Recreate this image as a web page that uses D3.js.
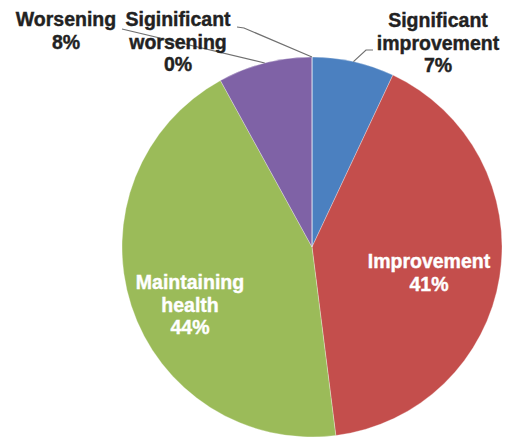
<!DOCTYPE html>
<html>
<head>
<meta charset="utf-8">
<script src="https://cdn.jsdelivr.net/npm/d3@7"></script>
<style>
  html, body { margin: 0; padding: 0; background: #ffffff; }
  svg { display: block; }
  text { font-family: "Liberation Sans", Arial, sans-serif; font-weight: bold; }
</style>
</head>
<body>
<script>
// ---- data ----
const categories = ["Significant improvement", "Improvement", "Maintaining health", "Worsening", "Siginificant worsening"];
const values = [7, 41, 44, 8, 0];
const labelLines = [["Significant", "improvement"], ["Improvement"], ["Maintaining", "health"], ["Worsening"], ["Siginificant", "worsening"]];

// ---- style / layout ----
const colors = ["#4b80c0", "#c44e4c", "#9bbb59", "#7f62a6", "#4bacc6"];
const textColors = ["#222222", "#ffffff", "#ffffff", "#222222", "#222222"];
const labelPos = [[438, 27], [429, 268], [190, 289], [66, 26], [178, 26]];
const W = 512, H = 439, cx = 312, cy = 247, R = 190;
const lineH = 22.5;

const svg = d3.select("body").append("svg").attr("width", W).attr("height", H);

const pie = d3.pie().sort(null).value(d => d)(values);
const arc = d3.arc().innerRadius(0).outerRadius(R);

const g = svg.append("g").attr("transform", `translate(${cx},${cy})`);
g.selectAll("path").data(pie).join("path")
  .attr("d", arc)
  .attr("fill", (d, i) => colors[i])
  .attr("stroke", "#ffffff")
  .attr("stroke-width", 0.5)
  .attr("stroke-opacity", 0.6);

// point on the pie rim at a slice's middle angle
function rim(d) {
  const a = (d.startAngle + d.endAngle) / 2;
  return [cx + R * Math.sin(a), cy - R * Math.cos(a)];
}

// leader lines for outside labels
const leaders = [
  { i: 0, pts: p => [p, [366, 50], [373, 50]] },
  { i: 3, pts: p => [[122, 29], p] },
  { i: 4, pts: p => [[237, 27], [244, 28], p] }
];
const line = d3.line();
svg.selectAll("path.leader").data(leaders).join("path")
  .attr("class", "leader")
  .attr("d", l => line(l.pts(rim(pie[l.i]))))
  .attr("fill", "none")
  .attr("stroke", "#707070")
  .attr("stroke-width", 1.2);

// labels
const lab = svg.selectAll("text.lab").data(pie).join("text")
  .attr("class", "lab")
  .attr("text-anchor", "middle")
  .attr("font-size", 19.5)
  .attr("fill", (d, i) => textColors[i])
  .attr("stroke", (d, i) => textColors[i])
  .attr("stroke-width", 0.4);
lab.each(function (d, i) {
  const t = d3.select(this);
  const lines = labelLines[i].concat([d.data + "%"]);
  lines.forEach((s, k) => {
    t.append("tspan")
      .attr("x", labelPos[i][0])
      .attr("y", labelPos[i][1] + k * lineH)
      .text(s);
  });
});
</script>
</body>
</html>
